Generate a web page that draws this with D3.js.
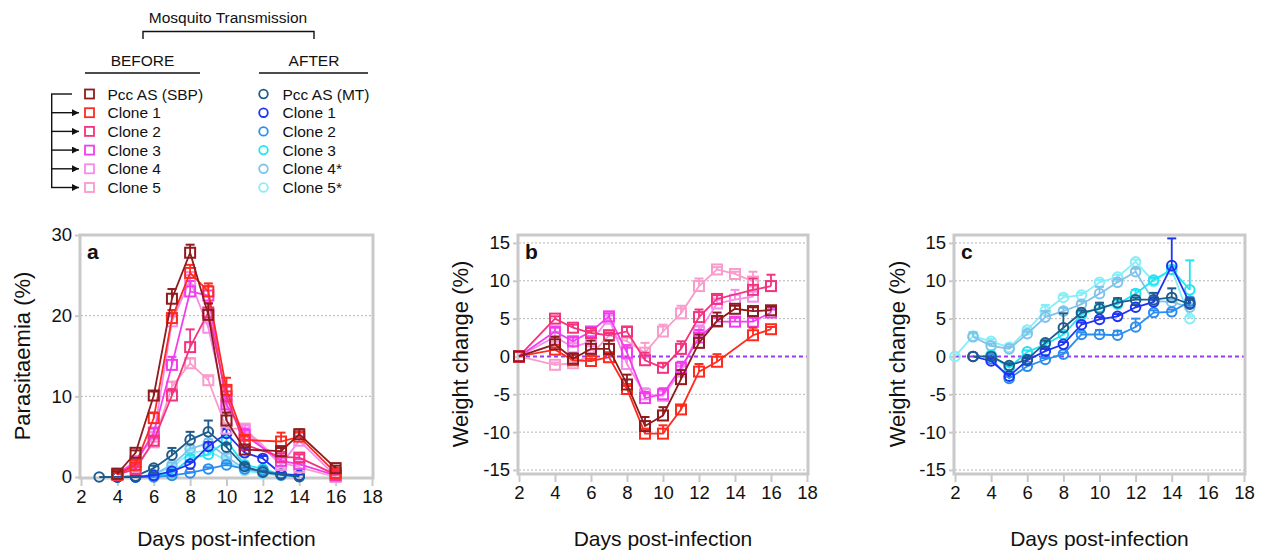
<!DOCTYPE html>
<html><head><meta charset="utf-8">
<script src="https://cdn.jsdelivr.net/npm/d3@7"></script>
<style>body{margin:0;background:#fff} text{font-family:"Liberation Sans",Arial,Helvetica,sans-serif;fill:#111}</style>
</head><body><svg id="c" width="1265" height="551"></svg>
<script>
// ---------- data ----------
const xTicks = [2,4,6,8,10,12,14,16,18];
const yTicksA = [0,10,20,30];
const yTicksW = [-15,-10,-5,0,5,10,15];

const legendBefore = ["Pcc AS (SBP)","Clone 1","Clone 2","Clone 3","Clone 4","Clone 5"];
const legendAfter  = ["Pcc AS (MT)","Clone 1","Clone 2","Clone 3","Clone 4*","Clone 5*"];
const colorsBefore = ["#8E1B1E","#FF2B1E","#F5327E","#F23DEE","#F78BEA","#F99BCB"];
const colorsAfter  = ["#1D5C8C","#1F33F2","#2B8DF0","#22E3F2","#7FC3EB","#86EEF8"];

// Panel a: parasitaemia (%)
const aDaysBefore = [4,5,6,7,8,9,10,11,13,14,16];
const aSBP = [0.4,3.0,10.1,22.1,27.8,20.1,7.0,3.4,3.2,5.3,1.1];
const aSBPerr = [0.3,0.3,0.5,1.2,1.0,1.4,1.0,0.3,0.4,0.6,0.3];
const aB1 = [0.3,1.5,7.3,19.7,25.3,23.0,10.8,4.6,4.4,5.0,0.5];
const aB1err = [0.2,0.3,0.7,1.0,1.0,1.0,1.5,0.5,1.1,0.5,0.2];
const aB2 = [0.3,1.0,4.5,10.1,16.1,20.4,10.0,4.0,2.5,2.4,0.3];
const aB2err = [0.2,0.3,0.5,0.8,2.2,1.2,1.2,0.5,0.4,0.4,0.1];
const aB3 = [0.4,1.8,5.5,13.9,23.0,22.5,9.0,5.2,2.0,1.6,0.2];
const aB3err = [0.2,0.3,0.5,1.0,1.3,1.2,1.0,0.8,0.4,0.3,0.1];
const aB4 = [0.4,2.0,5.0,19.3,24.4,18.5,8.5,5.8,1.5,4.5,0.1];
const aB4err = [0.2,0.3,0.5,0.8,1.0,1.0,1.0,0.6,0.3,0.5,0.1];
const aB5 = [0.3,1.2,4.3,11.2,14.1,12.0,6.0,6.0,1.8,1.2,0.0];
const aB5err = [0.2,0.2,0.4,0.6,0.6,0.5,0.6,0.5,0.3,0.3,0.0];

const aDaysAfter = [3,4,5,6,7,8,9,10,11,12,13,14];
const aMT = [0,0,0.1,1.1,2.7,4.6,5.6,3.7,1.3,0.6,0.3,0.05];
const aMTerr = [0,0,0.1,0.3,0.9,1.0,1.4,0.4,0.3,0.1,0.1,0.05];
const aA1 = [null,0,0,0.2,0.7,1.6,3.8,5.4,3.0,2.3,0.4,0.2];
const aA1err = [null,0,0,0.1,0.2,0.3,0.5,0.6,0.4,0.3,0.1,0.1];
const aA2 = [null,0,0,0,0.2,0.5,1.0,1.5,1.0,0.8,0.3,0.1];
const aA2err = [null,0,0,0,0.1,0.1,0.2,0.2,0.2,0.1,0.1,0];
const aA3 = [null,0,0,0.1,0.5,2.3,2.8,4.5,1.5,1.0,0.3,0.1];
const aA3err = [null,0,0,0.1,0.2,0.4,0.5,0.5,0.3,0.2,0.1,0];
const aA4 = [null,0,0,0.3,1.5,3.5,4.2,2.5,1.0,0.5,0.2,0.1];
const aA4err = [null,0,0,0.1,0.3,0.4,0.5,0.4,0.2,0.1,0.1,0];
const aA5 = [null,0,0,0.3,1.2,3.0,3.3,2.0,0.8,0.4,0.2,0.1];
const aA5err = [null,0,0,0.1,0.2,0.3,0.4,0.3,0.2,0.1,0.1,0];

// Panel b: weight change (%), before transmission
const bDays = [2,4,5,6,7,8,9,10,11,12,13,14,15,16];
const bSBP = [0,1.6,-0.3,1.0,1.0,-3.7,-9.2,-7.8,-3.0,1.8,4.7,6.3,6.0,6.1];
const bSBPerr = [0,1.0,0.7,1.1,1.1,1.3,1.2,1.1,1.2,1.1,1.1,0.4,0.5,0.5];
const bB1 = [0,0.9,-0.5,-0.6,-0.1,-4.3,-10.2,-10.2,-7.0,-2.0,-0.7,null,2.8,3.6];
const bB1err = [0,0.3,0.3,0.3,0.3,0.4,0.6,1.1,0.5,1.0,1.0,null,1.0,0.3];
const bB2 = [0,5.0,3.8,3.1,2.8,3.3,-0.5,-1.5,1.0,5.2,7.6,null,8.8,9.3];
const bB2err = [0,0.3,0.4,0.3,0.3,0.6,1.0,0.6,1.0,1.0,0.5,null,1.5,1.5];
const bB3 = [0,3.3,2.0,3.3,5.3,0.5,-5.5,-5.0,-1.5,2.5,4.6,4.6,4.6,5.8];
const bB3err = [0,0.5,0.5,0.5,0.4,1.0,0.8,0.8,0.8,1.0,0.5,0.5,0.5,0.4];
const bB4 = [0,2.6,1.2,2.0,5.0,-1.0,-5.0,-5.2,-2.0,3.3,7.0,7.5,7.9,null];
const bB4err = [0,0.5,0.5,0.5,0.4,0.8,0.8,0.8,0.8,0.8,0.5,1.3,0.9,null];
const bB5 = [0,-1.1,-0.9,0.2,2.8,2.0,0.5,3.3,5.7,9.3,11.5,10.9,9.9,null];
const bB5err = [0,0.3,0.3,0.3,0.5,0.5,1.3,0.9,1.0,1.0,0.3,0.3,1.3,null];

// Panel c: weight change (%), after transmission
const cDays = [2,3,4,5,6,7,8,9,10,11,12,13,14,15];
const cMT = [null,0,0,-1.2,-0.4,1.8,3.8,5.8,6.3,7.1,7.5,7.5,7.8,6.9];
const cMTerr = [null,0,0,0.3,0.3,0.3,1.9,0.3,0.8,0.6,0.3,0.9,1.2,0.8];
const cA1 = [null,0,-0.6,-2.6,-0.5,0.7,1.6,4.2,4.9,5.3,6.5,7.2,12.0,7.0];
const cA1err = [null,0,0.3,0.3,0.3,0.3,0.3,0.3,0.3,0.3,0.3,0.3,3.6,0.6];
const cA2 = [null,null,-0.3,-2.9,-1.3,-0.4,0.3,2.9,2.9,2.8,3.9,5.8,5.9,7.3];
const cA2err = [null,null,0.2,0.2,0.2,0.2,0.2,0.3,0.6,0.6,1.1,0.3,0.3,0.5];
const cA3 = [null,null,0.2,-1.5,0.6,1.6,2.9,5.5,6.5,6.9,8.3,10.1,11.5,8.8];
const cA3err = [null,null,0.2,0.2,0.2,0.3,0.3,0.4,0.5,0.5,0.5,0.3,0.3,3.9];
const cA4 = [null,2.6,1.4,1.0,3.0,5.2,6.0,6.9,8.3,9.8,11.2,7.3,7.2,6.5];
const cA4err = [null,0.6,0.3,0.3,0.3,0.8,0.4,0.4,0.9,0.4,0.4,0.3,0.3,0.3];
const cA5 = [0,2.7,2.0,1.2,3.5,6.0,7.8,8.1,9.8,10.5,12.5,9.9,11.5,5.0];
const cA5err = [0,0.3,0.3,0.4,0.3,0.8,0.3,0.3,0.3,0.3,0.3,0.3,0.3,0.3];

// ---------- drawing ----------
const svg = d3.select("#c");
const GRID = "#c9c9c9";

function mk(days, vals, errs, color, shape){
  const pts = days.map((d,i)=>({d, v: vals[i], e: errs[i]})).filter(p=>p.v!==null && p.v!==undefined);
  return {pts, color, shape};
}

function panel(cfg){
  const g = svg.append("g");
  const x = d3.scaleLinear().domain([2,18]).range([cfg.x0, cfg.x1]);
  const y = d3.scaleLinear().domain(cfg.ydom).range([cfg.yb, cfg.yt]);
  // gridlines
  cfg.yticks.forEach(t=>{
    if (t===0 && cfg.zero) return;
    if (Math.abs(y(t)-cfg.yt)<2 || Math.abs(y(t)-cfg.yb)<2) return;
    g.append("line").attr("x1",cfg.x0).attr("x2",cfg.x1).attr("y1",y(t)).attr("y2",y(t))
      .attr("stroke","#b5b5b5").attr("stroke-width",1).attr("stroke-dasharray","2,2");
  });
  if (cfg.zero){
    g.append("line").attr("x1",cfg.x0).attr("x2",cfg.x1).attr("y1",y(0)).attr("y2",y(0))
      .attr("stroke","#9A3BF2").attr("stroke-width",2).attr("stroke-dasharray","4,3");
  }
  // axes
  const ya = g.append("g").attr("transform",`translate(${cfg.x0-1},0)`)
    .call(d3.axisLeft(y).tickValues(cfg.yticks).tickSize(5).tickPadding(3)
      .tickFormat(d=> d<0 ? "-"+Math.abs(d) : String(d)));
  ya.select(".domain").remove();
  ya.selectAll("line").attr("stroke",GRID).attr("stroke-width",2);
  ya.selectAll("text").style("font-size","18.5px").attr("fill","#111");
  const xa = g.append("g").attr("transform",`translate(0,${cfg.yb+1})`)
    .call(d3.axisBottom(x).tickValues(xTicks).tickSize(8).tickPadding(4));
  xa.select(".domain").remove();
  xa.selectAll("line").attr("stroke",GRID).attr("stroke-width",2);
  xa.selectAll("text").style("font-size","18.5px").attr("fill","#111");
  // frame
  g.append("rect").attr("x",cfg.x0-1).attr("y",cfg.yt).attr("width",cfg.x1-cfg.x0+2).attr("height",cfg.yb-cfg.yt+1)
    .attr("fill","none").attr("stroke",GRID).attr("stroke-width",3);
  // letter
  g.append("text").attr("x",cfg.x0+6).attr("y",cfg.yt+24).text(cfg.letter)
    .style("font-size","21px").style("font-weight","bold");
  // titles
  g.append("text").attr("transform",`translate(${cfg.ylx},${(cfg.yt+cfg.yb)/2}) rotate(-90)`)
    .attr("text-anchor","middle").attr("dy","0.35em").style("font-size","22px").text(cfg.ylabel);
  g.append("text").attr("x",(cfg.x0+cfg.x1)/2).attr("y",546).attr("text-anchor","middle")
    .style("font-size","21px").text("Days post-infection");
  // series
  const line = d3.line().x(p=>x(p.d)).y(p=>y(p.v));
  cfg.series.forEach(s=>{
    const sg = g.append("g");
    sg.append("path").attr("d",line(s.pts)).attr("fill","none").attr("stroke",s.color).attr("stroke-width",1.8);
    s.pts.forEach(p=>{
      if (p.e>0.05){
        sg.append("line").attr("x1",x(p.d)).attr("x2",x(p.d)).attr("y1",y(p.v)).attr("y2",y(p.v+p.e))
          .attr("stroke",s.color).attr("stroke-width",1.8);
        sg.append("line").attr("x1",x(p.d)-4.5).attr("x2",x(p.d)+4.5).attr("y1",y(p.v+p.e)).attr("y2",y(p.v+p.e))
          .attr("stroke",s.color).attr("stroke-width",2);
      }
      if (s.shape==="sq"){
        sg.append("rect").attr("x",x(p.d)-5).attr("y",y(p.v)-5).attr("width",10).attr("height",10)
          .attr("fill","none").attr("stroke",s.color).attr("stroke-width",2);
      } else {
        sg.append("circle").attr("cx",x(p.d)).attr("cy",y(p.v)).attr("r",4.8)
          .attr("fill","none").attr("stroke",s.color).attr("stroke-width",2);
      }
    });
  });
}

const B = colorsBefore, A = colorsAfter;
panel({x0:81,x1:372,yt:235,yb:477,ydom:[0,30],yticks:yTicksA,letter:"a",ylabel:"Parasitaemia (%)",ylx:22,zero:false,
  series:[
    mk(aDaysAfter,aA5,aA5err,A[5],"ci"), mk(aDaysAfter,aA4,aA4err,A[4],"ci"), mk(aDaysAfter,aA3,aA3err,A[3],"ci"),
    mk(aDaysAfter,aA2,aA2err,A[2],"ci"), mk(aDaysAfter,aA1,aA1err,A[1],"ci"), mk(aDaysAfter,aMT,aMTerr,A[0],"ci"),
    mk(aDaysBefore,aB5,aB5err,B[5],"sq"), mk(aDaysBefore,aB4,aB4err,B[4],"sq"), mk(aDaysBefore,aB3,aB3err,B[3],"sq"),
    mk(aDaysBefore,aB2,aB2err,B[2],"sq"), mk(aDaysBefore,aB1,aB1err,B[1],"sq"), mk(aDaysBefore,aSBP,aSBPerr,B[0],"sq")
  ]});
panel({x0:519,x1:807,yt:235,yb:473,ydom:[-15.4,16.05],yticks:yTicksW,letter:"b",ylabel:"Weight change (%)",ylx:460,zero:true,
  series:[
    mk(bDays,bB5,bB5err,B[5],"sq"), mk(bDays,bB4,bB4err,B[4],"sq"), mk(bDays,bB3,bB3err,B[3],"sq"),
    mk(bDays,bB2,bB2err,B[2],"sq"), mk(bDays,bB1,bB1err,B[1],"sq"), mk(bDays,bSBP,bSBPerr,B[0],"sq")
  ]});
panel({x0:955,x1:1244,yt:235,yb:473,ydom:[-15.4,16.05],yticks:yTicksW,letter:"c",ylabel:"Weight change (%)",ylx:897,zero:true,
  series:[
    mk(cDays,cA5,cA5err,A[5],"ci"), mk(cDays,cA4,cA4err,A[4],"ci"), mk(cDays,cA3,cA3err,A[3],"ci"),
    mk(cDays,cA2,cA2err,A[2],"ci"), mk(cDays,cA1,cA1err,A[1],"ci"), mk(cDays,cMT,cMTerr,A[0],"ci")
  ]});

// ---------- legend ----------
const L = svg.append("g");
const ink = "#111";
L.append("text").attr("x",228).attr("y",23).attr("text-anchor","middle").style("font-size","15.5px").text("Mosquito Transmission");
L.append("path").attr("d","M143,39V31.5H314V39").attr("fill","none").attr("stroke",ink).attr("stroke-width",1.4);
L.append("text").attr("x",142.5).attr("y",66).attr("text-anchor","middle").style("font-size","15.5px").text("BEFORE");
L.append("text").attr("x",314).attr("y",66).attr("text-anchor","middle").style("font-size","15.5px").text("AFTER");
L.append("line").attr("x1",85).attr("x2",200).attr("y1",73).attr("y2",73).attr("stroke",ink).attr("stroke-width",1.4);
L.append("line").attr("x1",259).attr("x2",368).attr("y1",73).attr("y2",73).attr("stroke",ink).attr("stroke-width",1.4);
const rowY = i => 94 + i*18.7;
svg.append("defs").append("marker").attr("id","ah").attr("viewBox","0 0 10 10").attr("refX",10).attr("refY",5)
  .attr("markerWidth",7).attr("markerHeight",7).attr("markerUnits","userSpaceOnUse").attr("orient","auto")
  .append("path").attr("d","M0,0L10,5L0,10Z").attr("fill",ink);
L.append("line").attr("x1",51.7).attr("x2",51.7).attr("y1",rowY(0)).attr("y2",rowY(5)).attr("stroke",ink).attr("stroke-width",1.4);
L.append("line").attr("x1",51).attr("x2",72).attr("y1",rowY(0)).attr("y2",rowY(0)).attr("stroke",ink).attr("stroke-width",1.4);
for (let i=1;i<6;i++){
  L.append("line").attr("x1",51).attr("x2",79).attr("y1",rowY(i)).attr("y2",rowY(i)).attr("stroke",ink)
    .attr("stroke-width",1.4).attr("marker-end","url(#ah)");
}
legendBefore.forEach((t,i)=>{
  L.append("rect").attr("x",85).attr("y",rowY(i)-4.5).attr("width",9).attr("height",9)
    .attr("fill","none").attr("stroke",colorsBefore[i]).attr("stroke-width",1.8);
  L.append("text").attr("x",107.5).attr("y",rowY(i)+5.5).style("font-size","15.5px").text(t);
});
legendAfter.forEach((t,i)=>{
  L.append("circle").attr("cx",263.5).attr("cy",rowY(i)).attr("r",4.3)
    .attr("fill","none").attr("stroke",colorsAfter[i]).attr("stroke-width",1.8);
  L.append("text").attr("x",282.5).attr("y",rowY(i)+5.5).style("font-size","15.5px").text(t);
});
</script></body></html>
